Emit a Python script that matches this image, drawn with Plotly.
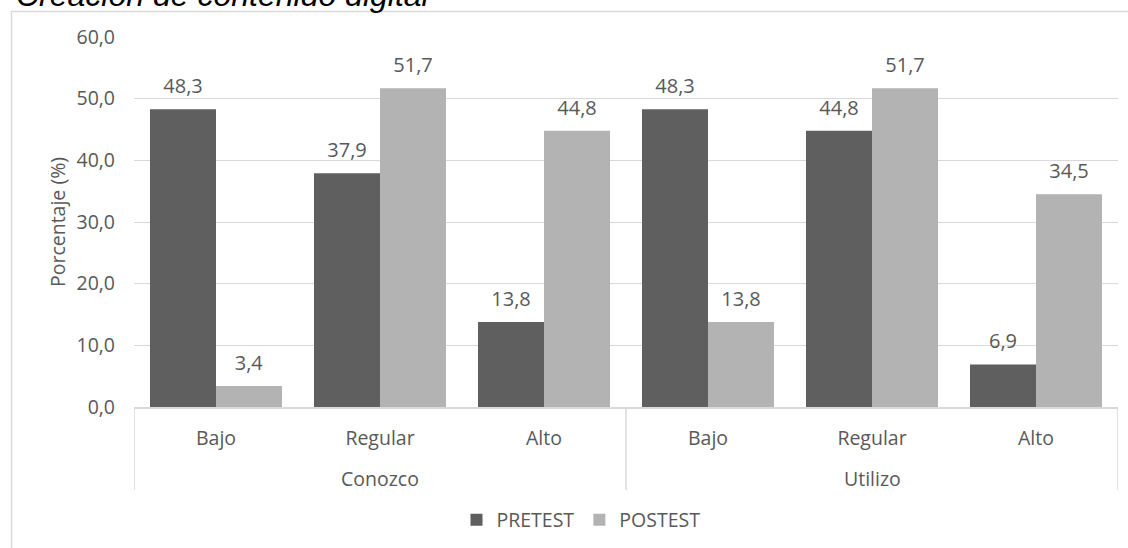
import plotly.graph_objects as go

# Grouping levels of the x axis
groups = ["Conozco", "Conozco", "Conozco", "Utilizo", "Utilizo", "Utilizo"]
levels = ["Bajo", "Regular", "Alto", "Bajo", "Regular", "Alto"]

# Percentages per level
pretest = [48.3, 37.9, 13.8, 48.3, 44.8, 6.9]
postest = [3.4, 51.7, 44.8, 13.8, 51.7, 34.5]

series_names = ["PRETEST", "POSTEST"]
title_text = "Creación de contenido digital"
y_title = "Porcentaje (%)"

FONT = "Open Sans"
FS = 19.5
LABEL_FS = 20
TXT = "#595959"
GRID = "#d9d9d9"
colors = ["#5f5f5f", "#b3b3b3"]

W, H = 1128, 548
L, R, T, B = 134, 10, 37, 141
pw, ph = W - L - R, H - T - B


def px_x(p):
    return (p - L) / pw


def px_y(p):
    return (H - B - p) / ph


xpos = list(range(len(levels)))

fig = go.Figure()
for name, vals, col in zip(series_names, [pretest, postest], colors):
    fig.add_trace(go.Bar(
        name=name,
        x=xpos,
        y=vals,
        marker=dict(color=col, line=dict(width=0)),
        texttemplate="<span style='font-size:%gpx'>%%{y:.1f}</span><br> " % LABEL_FS,
        textposition="outside",
        textfont=dict(family=FONT, size=8.5, color=TXT),
        cliponaxis=False,
    ))

# Frame, title, outer-level labels and dividers between the groups
shapes = [dict(type="rect", xref="paper", yref="paper",
               x0=px_x(11.5), x1=px_x(1300), y0=px_y(11.5), y1=px_y(800),
               line=dict(color=GRID, width=1.5), fillcolor="rgba(0,0,0,0)",
               layer="below")]
annotations = [dict(text="<i>" + title_text + "</i>", xref="paper", yref="paper",
                    x=px_x(14), y=px_y(15), xanchor="left", yanchor="bottom",
                    showarrow=False,
                    font=dict(family="Liberation Sans", size=32, color="black"))]

bounds = [-0.5]
start = 0
for i in range(1, len(groups) + 1):
    if i == len(groups) or groups[i] != groups[start]:
        annotations.append(dict(text=groups[start], xref="x", yref="paper",
                                x=(start + i - 1) / 2, y=px_y(478),
                                yanchor="middle", showarrow=False,
                                font=dict(family=FONT, size=FS, color=TXT)))
        bounds.append(i - 0.5)
        start = i
for b in bounds:
    shapes.append(dict(type="line", xref="x", yref="paper", x0=b, x1=b,
                       y0=0, y1=px_y(490), line=dict(color=GRID, width=1.5)))

fig.update_layout(
    width=W, height=H,
    margin=dict(l=L, r=R, t=T, b=B, autoexpand=False),
    paper_bgcolor="white", plot_bgcolor="white",
    separators=",.",
    barmode="group", bargap=0.195, bargroupgap=0,
    font=dict(family=FONT, size=FS, color=TXT),
    showlegend=True,
    legend=dict(orientation="h", x=px_x(581), xanchor="center",
                y=px_y(520), yanchor="middle",
                font=dict(family=FONT, size=FS, color=TXT),
                itemwidth=30, traceorder="normal"),
    xaxis=dict(range=[-0.5, len(levels) - 0.5], tickvals=xpos, ticktext=levels,
               showline=True, linecolor=GRID, linewidth=1.5, showgrid=False,
               zeroline=False, ticks="", ticklabelstandoff=13,
               tickfont=dict(family=FONT, size=FS, color=TXT)),
    yaxis=dict(range=[0, 60], dtick=10, tickformat=".1f", showgrid=True,
               gridcolor=GRID, gridwidth=1.3, zeroline=False, showline=False,
               ticks="", ticklabelstandoff=18,
               tickfont=dict(family=FONT, size=FS, color=TXT),
               title=dict(text=y_title, font=dict(family=FONT, size=FS, color=TXT),
                          standoff=5)),
    shapes=shapes,
    annotations=annotations,
)

fig.write_html("out.html")
